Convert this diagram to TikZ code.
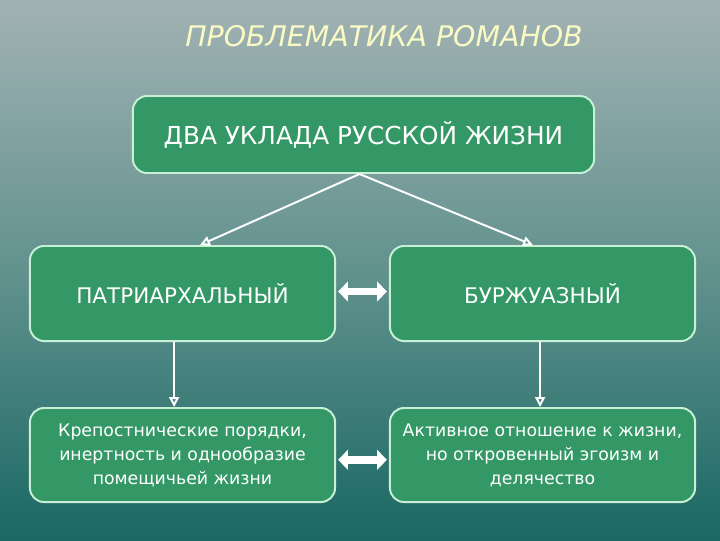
\documentclass[tikz,border=0pt]{standalone}
\usepackage{fontspec}
\setmainfont{DejaVu Sans}
\usepackage{tikz}
\usetikzlibrary{arrows.meta}
\usetikzlibrary{positioning}

\definecolor{bgtop}{RGB}{162,178,180}
\definecolor{bgmid}{RGB}{98,146,142}
\definecolor{bgbot}{RGB}{26,104,100}
\definecolor{boxgreen}{RGB}{52,152,102}
\definecolor{boxline}{RGB}{200,240,214}
\definecolor{titleyellow}{RGB}{250,250,196}

\begin{document}
\begin{tikzpicture}[
		x=0.025cm,
		y=-0.025cm
		]
		\tikzstyle{block}=[
			rectangle,
			rounded corners=10pt,
			draw=boxline,
			line width=1.4pt,
			fill=boxgreen,
			text=white,
			align=center,
			inner sep=0pt
		]
		\tikzstyle{wide block}=[
			block,
			minimum width=11.525cm,
			minimum height=1.925cm,
			font=\fontsize{17.6}{21}\selectfont
		]
		\tikzstyle{type block}=[
			block,
			minimum width=7.625cm,
			minimum height=2.375cm,
			font=\fontsize{15.3}{19}\selectfont
		]
		\tikzstyle{trait block}=[
			block,
			minimum width=7.625cm,
			minimum height=2.35cm,
			font=\fontsize{12.3}{17}\selectfont
		]
		\tikzstyle{thin arrow}=[
			draw=white,
			line width=1.4pt,
			-{Triangle[open, length=7pt, width=7pt]}
		]
		\tikzstyle{both arrow}=[
			draw=white,
			line width=5.5pt,
			{Triangle[length=7pt, width=14pt]}-{Triangle[length=7pt, width=14pt]},
			shorten >=1.5pt,
			shorten <=1.5pt
		]
		% Background.
			\shade[top color=bgtop, bottom color=bgbot, middle color=bgmid]
				(0,0) rectangle (720,540);
		% Title.
			\node[text=titleyellow, font=\fontsize{20.2}{24}\selectfont\itshape] (title) at (384,36)
				{ПРОБЛЕМАТИКА РОМАНОВ};
		% Draw the boxes.
			\node[wide block] (uklad) at (363.5,134.5) {ДВА УКЛАДА РУССКОЙ ЖИЗНИ};
			\node[type block] (patr) at (182.5,293.5) {ПАТРИАРХАЛЬНЫЙ};
			\node[type block] (burzh) at (542.5,293.5) {БУРЖУАЗНЫЙ};
			\node[trait block] (krep) at (182.5,455)
				{Крепостнические порядки,\\инертность и однообразие\\помещичьей жизни};
			\node[trait block] (aktiv) at (542.5,455)
				{Активное отношение к жизни,\\но откровенный эгоизм и\\делячество};
		% Connect the boxes.
			\draw[thin arrow] ([xshift=-0.1cm]uklad.south) -- ([xshift=0.44cm]patr.north);
			\draw[thin arrow] ([xshift=-0.1cm]uklad.south) -- ([xshift=-0.24cm]burzh.north);
			\draw[thin arrow] ([xshift=-0.21cm]patr.south) -- ([xshift=-0.21cm]krep.north);
			\draw[thin arrow] ([xshift=-0.06cm]burzh.south) -- ([xshift=-0.06cm]aktiv.north);
			\draw[both arrow] ([yshift=0.05cm]patr.east) -- ([yshift=0.05cm]burzh.west);
			\draw[both arrow] ([yshift=-0.12cm]krep.east) -- ([yshift=-0.12cm]aktiv.west);
	\end{tikzpicture}
\end{document}
